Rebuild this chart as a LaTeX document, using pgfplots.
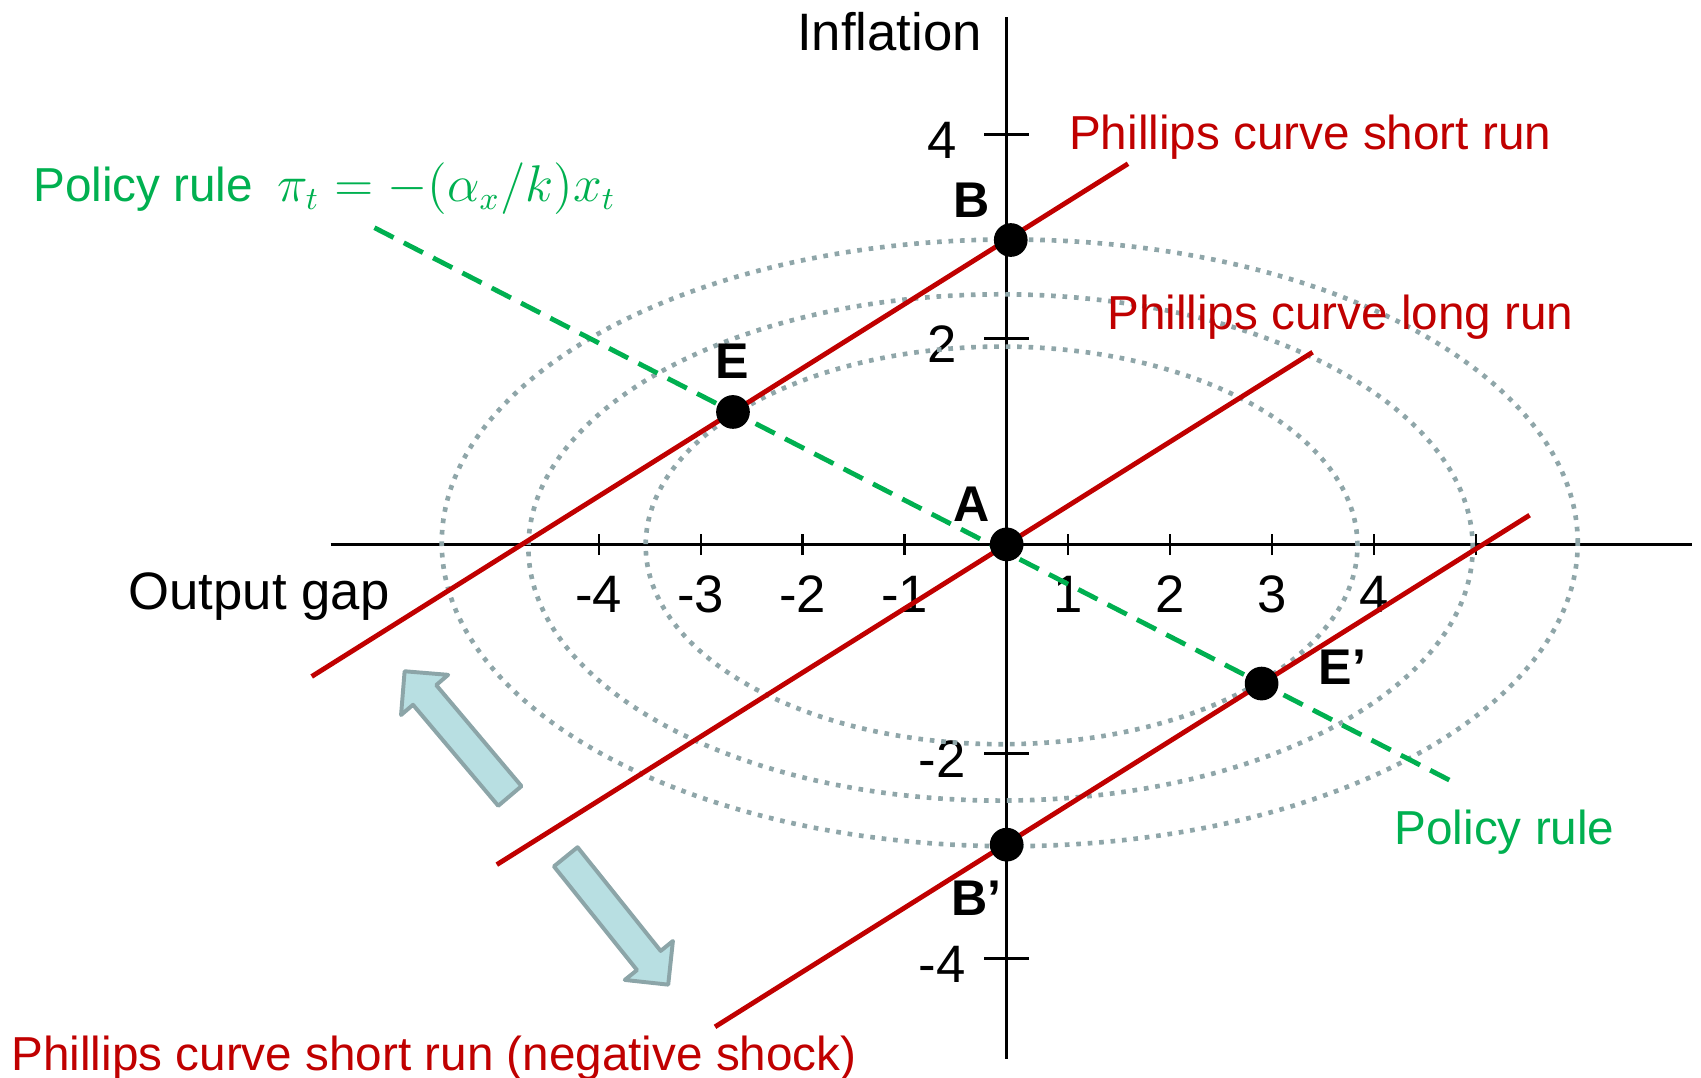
\documentclass[border=0pt]{standalone}
\usepackage{fontspec}
\setmainfont{Liberation Sans}
\usepackage{pgfplots}
\pgfplotsset{compat=1.18}
\definecolor{pcred}{HTML}{C00000}
\definecolor{prgreen}{HTML}{00B050}
\definecolor{ellgrey}{HTML}{8FA6A9}
\definecolor{arrfill}{HTML}{B8DFE2}
\definecolor{arredge}{HTML}{8CA5A8}
\newcommand\fs{\fontsize{13.3}{16}\selectfont}
\newcommand\fb{\fontsize{14.7}{17}\selectfont}
\newcommand\fl{\fontsize{14}{17}\selectfont\bfseries}
\begin{document}
\begin{tikzpicture}
\begin{axis}[
  x=1cm, y=1.005cm,
  axis lines=middle,
  axis line style={-, line width=0.7pt, black},
  xmin=-6.63, xmax=6.72, ymin=-5.02, ymax=5.15,
  enlargelimits=false,
  clip=false,
  xtick={-4,-3,-2,-1,0.6,1.6,2.6,3.6,4.6},
  xticklabels={-4,-3,-2,-1,1,2,3,4,{}},
  ytick={-4.04,-2.04,2.01,4.0},
  yticklabels={-4,-2,2,4},
  minor tick num=0,
  tick align=center,
  major tick style={black, line width=0.7pt},
  xtick style={/pgfplots/major tick length=6pt},
  ytick style={/pgfplots/major tick length=12.5pt},
  /pgf/number format/assume math mode=true,
  ticklabel style={font=\fb, inner sep=0pt},
  xticklabel style={anchor=base, yshift=-0.59cm},
  yticklabel style={anchor=center, xshift=-0.56cm, yshift=-0.06cm},
]
% indifference ellipses
\draw[ellgrey, line width=1.3pt, dash pattern=on 1.3pt off 1.9pt] (axis cs:0.03,0.015) ellipse [x radius=5.57, y radius=2.96];
\draw[ellgrey, line width=1.3pt, dash pattern=on 1.3pt off 1.9pt] (axis cs:-0.06,-0.03) ellipse [x radius=4.63, y radius=2.47];
\draw[ellgrey, line width=1.3pt, dash pattern=on 1.3pt off 1.9pt] (axis cs:-0.05,-0.01) ellipse [x radius=3.49, y radius=1.94];
% Phillips curves
\addplot[pcred, line width=1.35pt] coordinates {(-6.815,-1.289) (1.19,3.714)};
\addplot[pcred, line width=1.35pt] coordinates {(-5.0,-3.125) (3.0,1.875)};
\addplot[pcred, line width=1.35pt] coordinates {(-2.86,-4.7075) (5.128,0.285)};
% policy rule
\addplot[prgreen, line width=1.35pt, dash pattern=on 6pt off 3.2pt] coordinates {(-6.2,3.09) (4.4,-2.33)};
% points
\addplot[only marks, mark=*, mark size=4.5pt, black] coordinates {(0,0) (0.04,2.97) (-2.684,1.292) (2.5,-1.358) (0,-2.93)};
% arrows
\draw[arredge, fill=arrfill, line width=1.1pt, line join=round]
  (axis cs:-4.758,-2.359) -- (axis cs:-5.594,-1.373) -- (axis cs:-5.477,-1.273) -- (axis cs:-5.904,-1.238)
  -- (axis cs:-5.939,-1.665) -- (axis cs:-5.822,-1.565) -- (axis cs:-4.986,-2.551) -- cycle;
\draw[arredge, fill=arrfill, line width=1.1pt, line join=round]
  (axis cs:-4.208,-2.955) -- (axis cs:-3.393,-3.967) -- (axis cs:-3.273,-3.870) -- (axis cs:-3.319,-4.296)
  -- (axis cs:-3.745,-4.250) -- (axis cs:-3.625,-4.154) -- (axis cs:-4.440,-3.142) -- cycle;
% texts
\node[anchor=base, inner sep=0pt, font=\fb] at (axis cs:-1.149,4.815) {Inflation};
\node[anchor=base west, inner sep=0pt, font=\fb] at (axis cs:-8.617,-0.635) {Output gap};
\node[anchor=base west, inner sep=0pt, font=\fs, text=pcred] at (axis cs:0.606,3.852) {Phillips curve short run};
\node[anchor=base west, inner sep=0pt, font=\fs, text=pcred] at (axis cs:0.979,2.095) {Phillips curve long run};
\node[anchor=base west, inner sep=0pt, font=\fs, text=pcred] at (axis cs:-9.766,-5.132) {Phillips curve short run (negative shock)};
\node[anchor=base west, inner sep=0pt, font=\fs, text=prgreen] at (axis cs:3.798,-2.931) {Policy rule};
\node[anchor=base west, inner sep=0pt, font=\fs, text=prgreen] at (axis cs:-9.553,3.344) {Policy rule};
\node[anchor=base west, inner sep=0pt, font=\fontsize{13.4}{16}\selectfont, text=prgreen] at (axis cs:-7.16,3.344) {$\pi_t=-(\alpha_x/k)x_t$};
\node[inner sep=0pt, font=\fl] at (axis cs:-0.34,3.354) {B};
\node[inner sep=0pt, font=\fl] at (axis cs:-2.69,1.788) {E};
\node[inner sep=0pt, font=\fl] at (axis cs:-0.34,0.392) {A};
\node[anchor=west, inner sep=0pt, font=\fl] at (axis cs:3.053,-1.196) {E’};
\node[inner sep=0pt, font=\fl] at (axis cs:-0.298,-3.45) {B’};
\coordinate (bl) at (axis cs:-9.872,-5.206);
\coordinate (tr) at (axis cs:6.809,5.312);
\end{axis}
\pgfresetboundingbox
\path (bl) rectangle (tr);
\end{tikzpicture}
\end{document}
